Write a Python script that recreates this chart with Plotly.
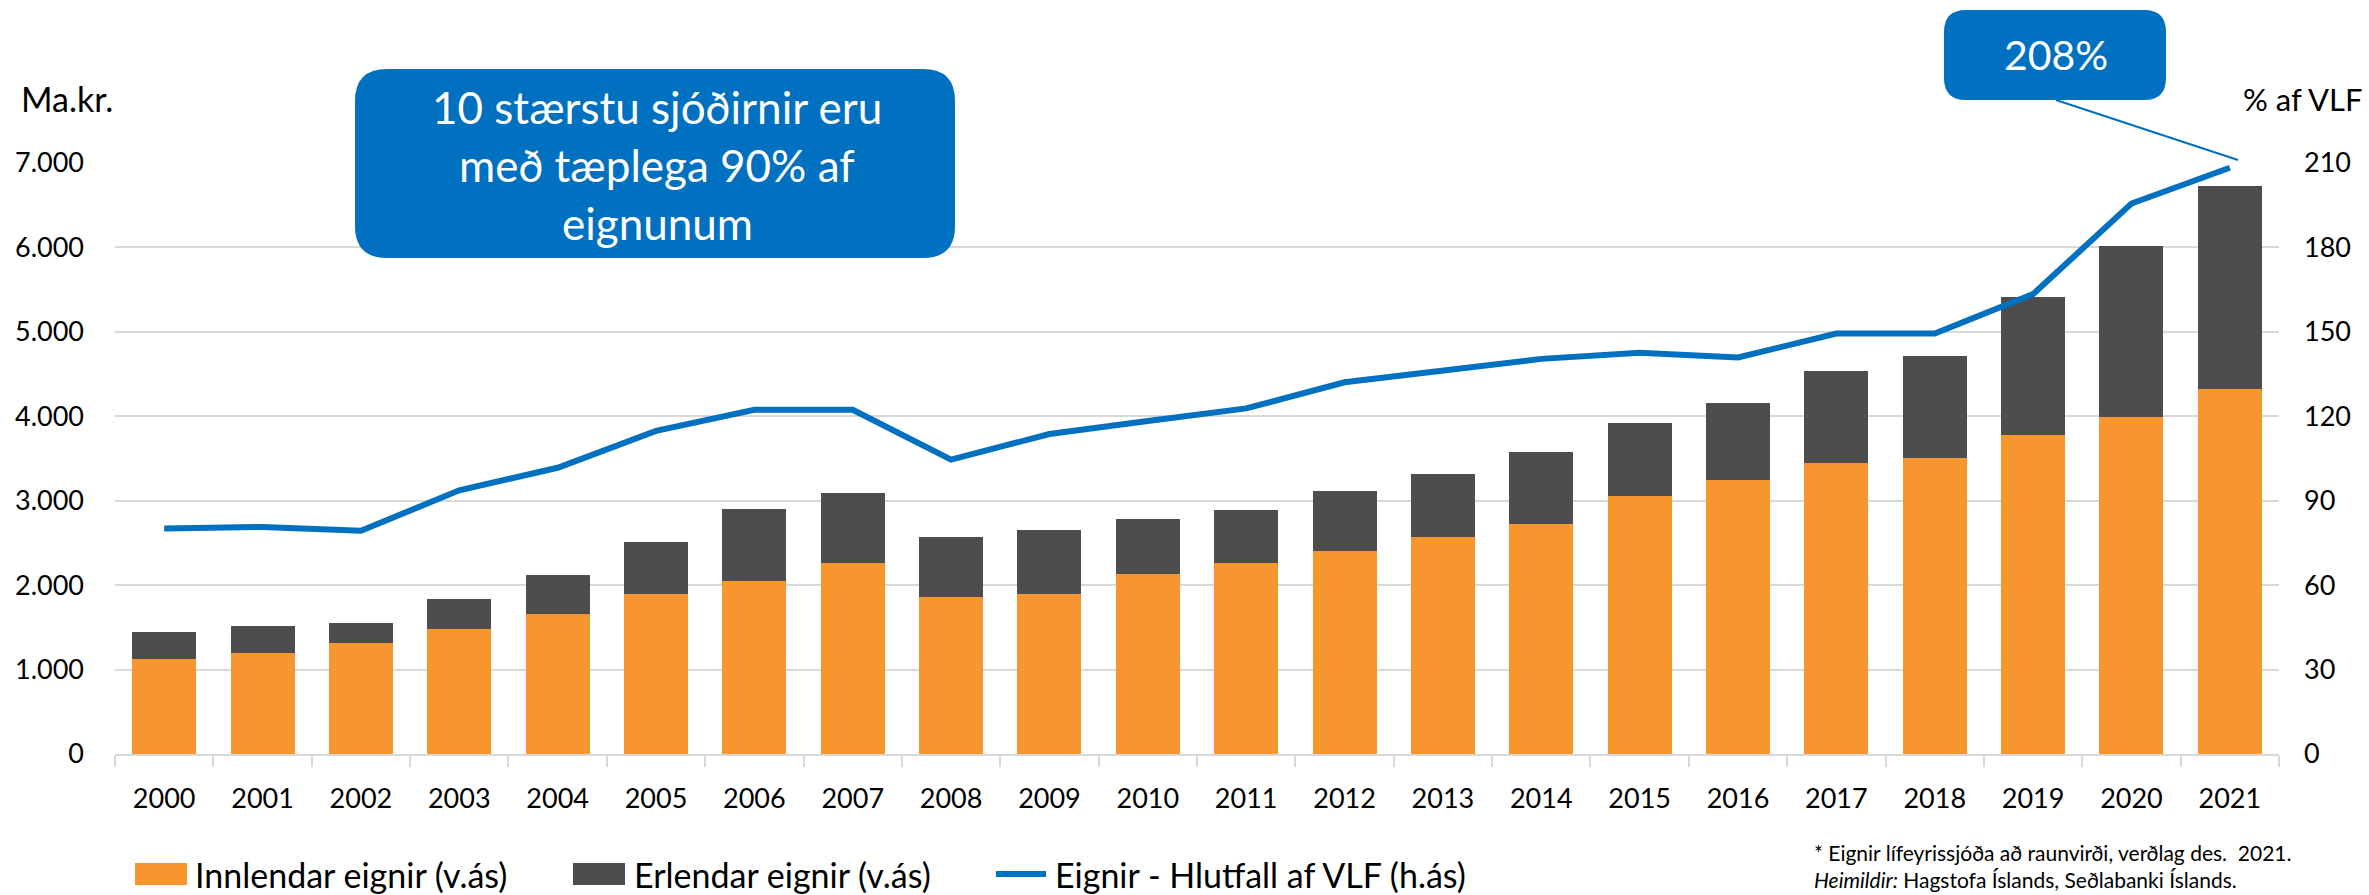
import plotly.graph_objects as go

years = [str(y) for y in range(2000, 2022)]
total = [1442, 1512, 1553, 1839, 2120, 2512, 2903, 3097, 2567, 2650, 2783, 2889,
         3115, 3313, 3576, 3922, 4152, 4539, 4710, 5410, 6014, 6733]
innlendar = [1120, 1198, 1318, 1484, 1654, 1899, 2051, 2263, 1857, 1899, 2134, 2263,
             2410, 2571, 2728, 3051, 3249, 3447, 3502, 3779, 3986, 4318]
erlendar = [t - i for t, i in zip(total, innlendar)]
vlf_pct = [80.1, 80.7, 79.3, 93.7, 101.7, 114.8, 122.3, 122.3, 104.6, 113.7, 118.3, 122.8,
           132.1, 136.5, 140.4, 142.6, 140.9, 149.4, 149.4, 163.4, 195.6, 208.3]

W, H = 2369, 895
L, R, T, B = 115, 2279, 163, 754
FONT = "Lato"
ORANGE = "#F7962E"
DARK = "#4D4D4F"
BLUE = "#0070C0"
GRID = "#D9D9D9"


def px(x):
    return (x - L) / (R - L)


def py(y):
    return (B - y) / (B - T)


def rrect(x0, y0, x1, y1, r):
    rx = r / (R - L)
    ry = r / (B - T)
    X0, X1 = px(x0), px(x1)
    Y0, Y1 = py(y0), py(y1)
    return (f"M {X0+rx},{Y0} L {X1-rx},{Y0} Q {X1},{Y0} {X1},{Y0-ry} "
            f"L {X1},{Y1+ry} Q {X1},{Y1} {X1-rx},{Y1} L {X0+rx},{Y1} "
            f"Q {X0},{Y1} {X0},{Y1+ry} L {X0},{Y0-ry} Q {X0},{Y0} {X0+rx},{Y0} Z")


fig = go.Figure()
fig.add_trace(go.Bar(x=years, y=innlendar, name="Innlendar eignir (v.ás)",
                     marker=dict(color=ORANGE, line=dict(width=0)), showlegend=False))
fig.add_trace(go.Bar(x=years, y=erlendar, name="Erlendar eignir (v.ás)",
                     marker=dict(color=DARK, line=dict(width=0)), showlegend=False))
fig.add_trace(go.Scatter(x=years, y=vlf_pct, name="Eignir - Hlutfall af VLF (h.ás)",
                         mode="lines", line=dict(color=BLUE, width=6), yaxis="y2",
                         showlegend=False))

shapes = []
annotations = []

# callout 1
shapes.append(dict(type="path", xref="paper", yref="paper", path=rrect(355, 69, 955, 258, 32),
                   fillcolor=BLUE, line=dict(width=0), layer="above"))
for txt, yy in [("10 stærstu sjóðirnir eru", 107), ("með tæplega 90% af", 165), ("eignunum", 223)]:
    annotations.append(dict(xref="paper", yref="paper", x=px(657), y=py(yy), text=txt,
                            showarrow=False, xanchor="center", yanchor="middle",
                            font=dict(family=FONT, size=44, color="white")))

# callout 2
shapes.append(dict(type="line", xref="paper", yref="paper", x0=px(2056), y0=py(100),
                   x1=px(2238), y1=py(160), line=dict(color=BLUE, width=2)))
shapes.append(dict(type="path", xref="paper", yref="paper", path=rrect(1944, 10, 2166, 100, 22),
                   fillcolor=BLUE, line=dict(width=0), layer="above"))
annotations.append(dict(xref="paper", yref="paper", x=px(2056), y=py(55), text="208%",
                        showarrow=False, xanchor="center", yanchor="middle",
                        font=dict(family=FONT, size=41, color="white")))

# axis titles
annotations.append(dict(xref="paper", yref="paper", x=px(19), y=py(98), text="Ma.kr.",
                        showarrow=False, xanchor="left", yanchor="middle",
                        font=dict(family=FONT, size=34, color="black")))
annotations.append(dict(xref="paper", yref="paper", x=px(2365), y=py(99), text="% af VLF",
                        showarrow=False, xanchor="right", yanchor="middle",
                        font=dict(family=FONT, size=31, color="black")))

# legend (manual)
leg = [(135, ORANGE, "rect", 193, "Innlendar eignir (v.ás)"),
       (573, DARK, "rect", 632, "Erlendar eignir (v.ás)"),
       (993, BLUE, "line", 1053, "Eignir - Hlutfall af VLF (h.ás)")]
for x0, col, kind, tx, txt in leg:
    if kind == "rect":
        shapes.append(dict(type="rect", xref="paper", yref="paper", x0=px(x0), x1=px(x0 + 52),
                           y0=py(863), y1=py(885), fillcolor=col, line=dict(width=0)))
    else:
        shapes.append(dict(type="line", xref="paper", yref="paper", x0=px(x0 + 3), x1=px(x0 + 53),
                           y0=py(874), y1=py(874), line=dict(color=col, width=6)))
    annotations.append(dict(xref="paper", yref="paper", x=px(tx), y=py(874), text=txt,
                            showarrow=False, xanchor="left", yanchor="middle",
                            font=dict(family=FONT, size=34, color="black")))

# footnote (single two-line annotation)
annotations.append(dict(xref="paper", yref="paper", x=px(1812), y=py(894),
                        text="* Eignir lífeyrissjóða að raunvirði, verðlag des.  2021.<br>"
                             "<i>Heimildir:</i> Hagstofa Íslands, Seðlabanki Íslands.",
                        showarrow=False, xanchor="left", yanchor="bottom", align="left",
                        font=dict(family=FONT, size=21, color="black")))

fig.update_layout(
    width=W, height=H,
    margin=dict(l=L, r=W - R, t=T, b=H - B, pad=0),
    paper_bgcolor="white", plot_bgcolor="white",
    barmode="stack", bargap=0.35,
    separators=",.",
    font=dict(family=FONT, size=27, color="black"),
    xaxis=dict(type="category", showgrid=False, showline=True, linecolor=GRID, linewidth=2,
               ticks="outside", tickson="boundaries", ticklen=11, tickcolor=GRID, tickwidth=2,
               tickfont=dict(family=FONT, size=27, color="black"), ticklabelstandoff=20),
    yaxis=dict(range=[0, 7000], dtick=1000, tickformat=",d", showgrid=True, gridcolor=GRID,
               gridwidth=2, zeroline=False, showline=False, ticks="",
               tickfont=dict(family=FONT, size=27, color="black"), ticklabelstandoff=30),
    yaxis2=dict(range=[0, 210], dtick=30, overlaying="y", side="right", showgrid=False,
                zeroline=False, showline=False, ticks="",
                tickfont=dict(family=FONT, size=27, color="black"), ticklabelstandoff=24),
    shapes=shapes, annotations=annotations,
)

fig.write_html("out.html", config={"displayModeBar": False},
               post_script="document.body.style.margin='0';document.body.style.overflow='hidden';")
